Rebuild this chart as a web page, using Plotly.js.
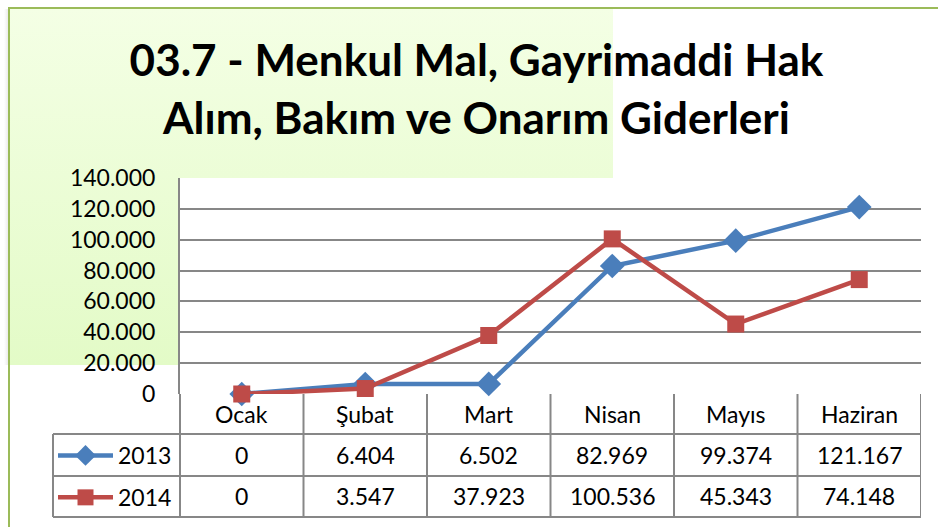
<!DOCTYPE html>
<html>
<head>
<meta charset="utf-8">
<script src="https://cdn.plot.ly/plotly-3.0.1.min.js"></script>
<style>
html,body{margin:0;padding:0;background:#fff;}
#wrap{position:relative;width:938px;height:527px;overflow:hidden;}
#bg{position:absolute;left:8px;top:8px;width:605px;height:357px;background:linear-gradient(#F4FFE5,#E3FBC7);}
#shadow{position:absolute;left:4px;top:9px;width:4px;height:356px;background:linear-gradient(90deg,rgba(0,0,0,0),rgba(0,0,0,0.08));}
#btop{position:absolute;left:8px;top:7px;width:930px;height:2px;background:#9BBB59;}
#bleft{position:absolute;left:8px;top:7px;width:2px;height:520px;background:#9BBB59;}
#chart{position:absolute;left:0;top:0;width:938px;height:527px;}
</style>
</head>
<body>
<div id="wrap">
<div id="bg"></div>
<div id="shadow"></div>
<div id="btop"></div>
<div id="bleft"></div>
<div id="chart"></div>
</div>
<script>
var categories = ["Ocak", "Şubat", "Mart", "Nisan", "Mayıs", "Haziran"];
var series2013 = [0, 6404, 6502, 82969, 99374, 121167];
var series2014 = [0, 3547, 37923, 100536, 45343, 74148];
var seriesNames = ["2013", "2014"];
var titleText = "03.7 - Menkul Mal, Gayrimaddi Hak<br>Alım, Bakım ve Onarım Giderleri";

var W = 938, H = 527;
var L = 180, R = 921, T = 178, B = 394;
var plotH = B - T, plotW = R - L;
function py(pix){ return (B - pix) / plotH; }
function px(pix){ return (pix - L) / plotW; }
function fmt(v){ return String(v).replace(/\B(?=(\d{3})+(?!\d))/g, "."); }

var FONT = "Lato, 'Open Sans', sans-serif";
var gridCol = "#878787";
var blue = "#4A7EBB", red = "#BE4B48";

var traces = [
  {x: categories, y: series2013, name: seriesNames[0], type: "scatter", mode: "lines+markers",
   line: {color: blue, width: 4.5}, marker: {symbol: "diamond", size: 19, color: blue},
   cliponaxis: false, legendgroup: "a"},
  {x: categories, y: series2014, name: seriesNames[1], type: "scatter", mode: "lines+markers",
   line: {color: red, width: 4.5}, marker: {symbol: "square", size: 17, color: red},
   cliponaxis: false, legendgroup: "b"}
];

var rowYs = [py(455), py(496)];
var headY = py(414);
var annotations = [];
categories.forEach(function(c, i){
  annotations.push({x: i, xref: "x", y: headY, yref: "paper", text: c, showarrow: false,
    font: {family: FONT, size: 23, color: "#000"}, xanchor: "center", yanchor: "middle"});
  annotations.push({x: i, xref: "x", y: rowYs[0], yref: "paper", text: fmt(series2013[i]), showarrow: false,
    font: {family: FONT, size: 23, color: "#000"}, xanchor: "center", yanchor: "middle"});
  annotations.push({x: i, xref: "x", y: rowYs[1], yref: "paper", text: fmt(series2014[i]), showarrow: false,
    font: {family: FONT, size: 23, color: "#000"}, xanchor: "center", yanchor: "middle"});
});

var shapes = [];
var ln = {color: gridCol, width: 2};
shapes.push({type: "line", xref: "paper", yref: "paper", x0: px(L), x1: px(R), y0: py(434), y1: py(434), line: ln});
shapes.push({type: "line", xref: "paper", yref: "paper", x0: px(53), x1: px(L), y0: py(434), y1: py(434), line: ln});
shapes.push({type: "line", xref: "paper", yref: "paper", x0: px(53), x1: px(R), y0: py(476), y1: py(476), line: ln});
shapes.push({type: "line", xref: "paper", yref: "paper", x0: px(53), x1: px(R), y0: py(517), y1: py(517), line: ln});
shapes.push({type: "line", xref: "paper", yref: "paper", x0: px(53), x1: px(53), y0: py(434), y1: py(517), line: ln});
shapes.push({type: "line", xref: "paper", yref: "paper", x0: 0, x1: 0, y0: 0, y1: py(517), line: ln});
for (var i = 0; i <= categories.length; i++) {
  shapes.push({type: "line", xref: "x", yref: "paper", x0: i - 0.5, x1: i - 0.5, y0: 0, y1: py(517), line: ln});
}

var layout = {
  width: W, height: H,
  margin: {l: L, r: W - R, t: T, b: H - B, autoexpand: false},
  paper_bgcolor: "rgba(0,0,0,0)",
  plot_bgcolor: "#ffffff",
  separators: ",.",
  title: {text: titleText, font: {family: FONT, size: 44, color: "#000", weight: "bold"},
          x: 0.508, xanchor: "center", y: 0.855, yanchor: "middle"},
  showlegend: true,
  legend: {x: px(53), xanchor: "left", y: py(434), yanchor: "top", orientation: "v",
           traceorder: "grouped", tracegroupgap: 9, itemwidth: 55,
           font: {family: FONT, size: 23, color: "#000"}, bgcolor: "rgba(0,0,0,0)"},
  xaxis: {type: "category", range: [-0.5, categories.length - 0.5], showticklabels: false,
          showgrid: false, zeroline: false, showline: false, ticks: "", fixedrange: true},
  yaxis: {range: [0, 140000], dtick: 20000, tickformat: ",d", showgrid: true, gridcolor: gridCol,
          gridwidth: 2, zeroline: false, showline: true, linecolor: gridCol, linewidth: 2,
          ticks: "", ticklabelstandoff: 18,
          tickfont: {family: FONT, size: 23, color: "#000"}},
  annotations: annotations,
  shapes: shapes
};

Plotly.newPlot("chart", traces, layout, {displayModeBar: false, staticPlot: true});
</script>
</body>
</html>
